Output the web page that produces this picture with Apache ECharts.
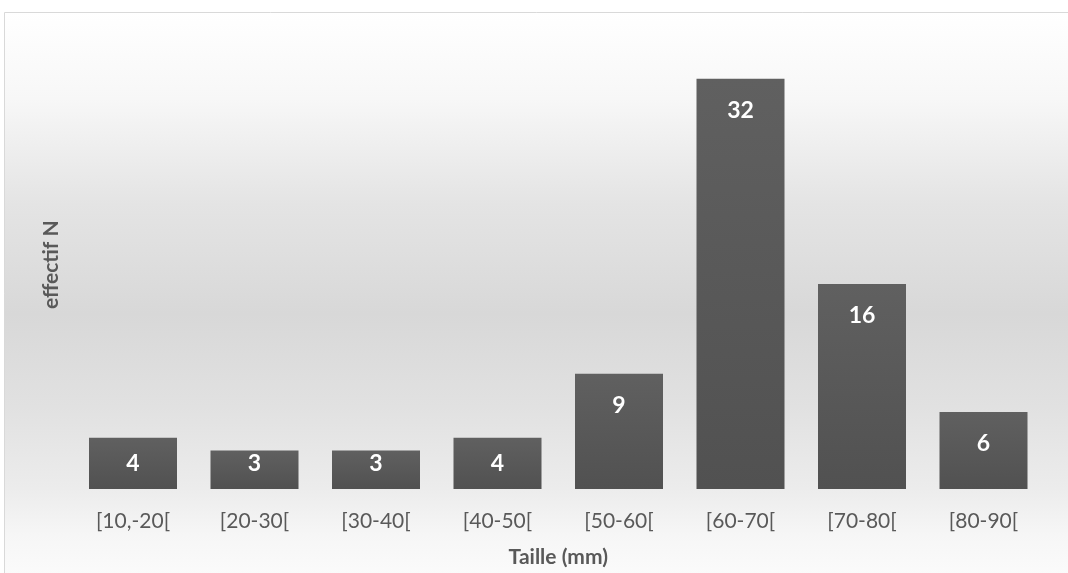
<!DOCTYPE html>
<html>
<head>
<meta charset="utf-8">
<script src="https://cdn.jsdelivr.net/npm/echarts@6/dist/echarts.min.js"></script>
<style>
html,body{margin:0;padding:0;background:#fff;}
#chart{width:1068px;height:573px;}
</style>
</head>
<body>
<div id="chart"></div>
<script>
const categories = ['[10,-20[', '[20-30[', '[30-40[', '[40-50[', '[50-60[', '[60-70[', '[70-80[', '[80-90['];
const counts = [4, 3, 3, 4, 9, 32, 16, 6];
const xTitle = 'Taille (mm)';
const yTitle = 'effectif N';

const W = 1068, H = 573;
const gridTop = 40.4, gridBottom = 82, yMax = 35;
const pxPerUnit = (H - gridTop - gridBottom) / yMax;

const chart = echarts.init(document.getElementById('chart'), null, {renderer: 'canvas'});

const barGrad = new echarts.graphic.LinearGradient(0, 0, 0, 1, [
  {offset: 0, color: '#606060'},
  {offset: 1, color: '#515151'}
]);

const seriesData = counts.map(v => ({
  value: v,
  label: {distance: Math.min(20, v * pxPerUnit - 37)}
}));

chart.setOption({
  animation: false,
  graphic: [{
    type: 'rect',
    z: -10,
    silent: true,
    shape: {x: 4.5, y: 12.5, width: 1080, height: 580},
    style: {
      stroke: '#d9d9d9',
      lineWidth: 1,
      fill: new echarts.graphic.LinearGradient(0, 0, 0, 1, [
        {offset: 0, color: '#ffffff'},
        {offset: 0.15, color: '#f7f7f7'},
        {offset: 0.33, color: '#e4e4e4'},
        {offset: 0.52, color: '#d8d8d8'},
        {offset: 0.68, color: '#e1e1e1'},
        {offset: 0.82, color: '#ececec'},
        {offset: 0.9, color: '#f6f6f6'},
        {offset: 1, color: '#fdfdfd'}
      ])
    }
  }],
  grid: {left: 72.25, right: 23.75, top: gridTop, bottom: gridBottom, containLabel: false},
  xAxis: {
    type: 'category',
    data: categories,
    axisLine: {show: false},
    axisTick: {show: false},
    axisLabel: {color: '#595959', fontFamily: 'Lato', fontSize: 21, margin: 22, interval: 0},
    name: xTitle,
    nameLocation: 'middle',
    nameGap: 58,
    nameTextStyle: {color: '#595959', fontFamily: 'Lato', fontSize: 21, fontWeight: 'bold'}
  },
  yAxis: {
    type: 'value',
    min: 0,
    max: yMax,
    axisLine: {show: false},
    axisTick: {show: false},
    axisLabel: {show: false},
    splitLine: {show: false},
    name: yTitle,
    nameLocation: 'middle',
    nameGap: 11,
    nameTextStyle: {color: '#595959', fontFamily: 'Lato', fontSize: 21, fontWeight: 'bold'}
  },
  series: [{
    type: 'bar',
    data: seriesData,
    barWidth: 88,
    itemStyle: {color: barGrad},
    label: {
      show: true,
      position: 'insideTop',
      color: '#ffffff',
      fontFamily: 'Lato',
      fontSize: 23,
      fontWeight: 'bold'
    }
  }]
});
</script>
</body>
</html>
